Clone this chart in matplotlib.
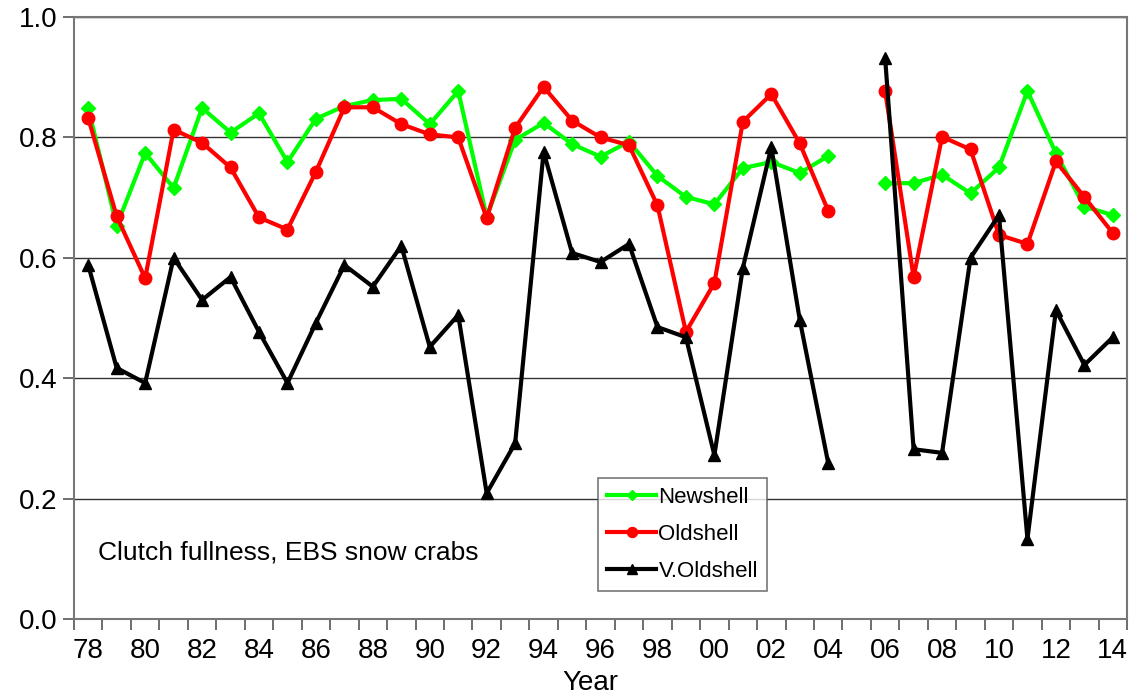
import numpy as np
import matplotlib
matplotlib.use("Agg")
from matplotlib import pyplot as plt

years = list(range(1978, 2015))
year_labels = ["%02d" % (y % 100) for y in years]

# 2005 has no survey values
newshell = [0.849, 0.653, 0.774, 0.716, 0.849, 0.808, 0.840, 0.759, 0.831, 0.852,
            0.862, 0.864, 0.822, 0.877, 0.668, 0.796, 0.824, 0.789, 0.768, 0.793,
            0.736, 0.701, 0.689, 0.749, 0.759, 0.741, 0.769, None,
            0.724, 0.724, 0.738, 0.707, 0.750, 0.877, 0.774, 0.685, 0.671]
oldshell = [0.832, 0.669, 0.566, 0.813, 0.791, 0.750, 0.667, 0.647, 0.743, 0.850,
            0.850, 0.822, 0.805, 0.800, 0.666, 0.816, 0.884, 0.828, 0.800, 0.787,
            0.687, 0.477, 0.558, 0.826, 0.872, 0.790, 0.678, None,
            0.877, 0.568, 0.801, 0.780, 0.638, 0.623, 0.760, 0.701, 0.641]
v_oldshell = [0.588, 0.417, 0.392, 0.600, 0.530, 0.568, 0.477, 0.392, 0.492, 0.588,
              0.552, 0.620, 0.452, 0.505, 0.209, 0.292, 0.776, 0.608, 0.593, 0.623,
              0.485, 0.468, 0.272, 0.583, 0.784, 0.497, 0.259, None,
              0.932, 0.282, 0.276, 0.600, 0.671, 0.133, 0.513, 0.422, 0.468]


def arr(v):
    return np.array([np.nan if x is None else x for x in v], dtype=float)


plt.rcParams['font.family'] = ['Liberation Sans', 'DejaVu Sans']

fig = plt.figure(figsize=(11.35, 6.96), dpi=100)
ax = fig.add_axes([0.0652, 0.1106, 0.9278, 0.865])

x = np.arange(len(years))
ax.plot(x, arr(newshell), color='#00ff00', lw=3, marker='D', ms=7,
        label='Newshell', zorder=3)
ax.plot(x, arr(oldshell), color='#ff0000', lw=3, marker='o', ms=9,
        label='Oldshell', zorder=4)
ax.plot(x, arr(v_oldshell), color='black', lw=3, marker='^', ms=9,
        label='V.Oldshell', zorder=5)

ax.set_xlim(-0.5, len(years) - 0.5)
ax.set_ylim(0, 1.0)

# category axis: ticks at the boundaries, labels every other year
ax.set_xticks(np.arange(len(years) + 1) - 0.5)
ax.set_xticklabels([])
ax.set_xticks(x[::2], minor=True)
ax.set_xticklabels(year_labels[::2], minor=True, fontsize=20)
ax.tick_params(axis='x', which='major', length=8, width=1.2, color='#555555',
               direction='out')
ax.tick_params(axis='x', which='minor', length=0, pad=14)

ax.set_yticks(np.arange(0, 1.01, 0.2))
ax.set_yticklabels(["%.1f" % v for v in np.arange(0, 1.01, 0.2)], fontsize=20)
ax.tick_params(axis='y', length=8, width=1.2, color='#555555', direction='out', pad=4)

ax.grid(axis='y', color='#333333', lw=1)
ax.set_axisbelow(True)
for side in ['left', 'bottom', 'top', 'right']:
    ax.spines[side].set_color('#777777')
    ax.spines[side].set_linewidth(1.5)

ax.set_xlabel('Year', fontsize=20, labelpad=-2)
ax.xaxis.set_label_coords(0.49, -0.085)
ax.xaxis.label.set_va('top')

ax.text(0.023, 0.11, 'Clutch fullness, EBS snow crabs', transform=ax.transAxes,
        fontsize=19, va='center', ha='left')

leg = ax.legend(loc='lower left', bbox_to_anchor=(0.498, 0.047), fontsize=16,
                frameon=True, fancybox=False, edgecolor='#555555',
                handlelength=2.2, handletextpad=0.1, labelspacing=0.72,
                borderpad=0.4, borderaxespad=0, markerscale=0.8)
leg.get_frame().set_linewidth(1.2)

fig.savefig('out.png', dpi=100)
